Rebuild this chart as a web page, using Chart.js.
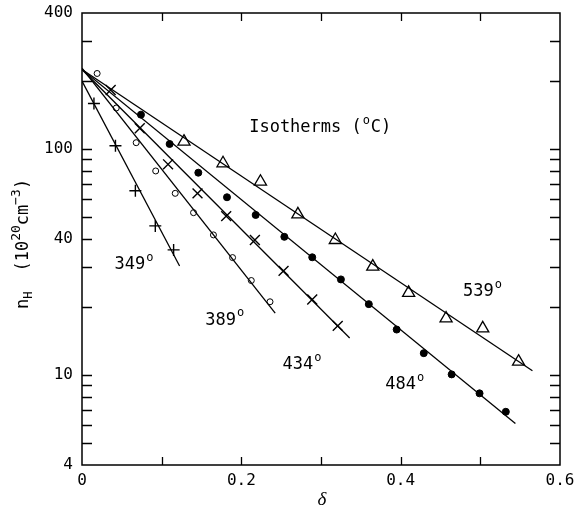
<!DOCTYPE html>
<html><head><meta charset="utf-8">
<script src="https://cdn.jsdelivr.net/npm/chart.js@4.4.1/dist/chart.umd.min.js"></script>
<style>html,body{margin:0;padding:0;background:#fff}canvas{display:block}</style>
</head><body><canvas id="c" width="574" height="511"></canvas>
<script>
// ---- data ----
const x349 = [0.015, 0.042, 0.067, 0.092, 0.115];
const y349 = [159, 103.5, 65.4, 45.7, 35.8];
const x389 = [0.019, 0.043, 0.068, 0.0925, 0.117, 0.140, 0.165, 0.189, 0.2125, 0.236];
const y389 = [216, 152, 106.7, 80, 63.7, 52.3, 41.7, 33.1, 26.2, 21.1];
const x434 = [0.036, 0.0725, 0.108, 0.145, 0.181, 0.217, 0.253, 0.289, 0.321];
const y434 = [182.5, 123.6, 85.6, 63.7, 50.5, 39.6, 28.9, 21.6, 16.5];
const x484 = [0.074, 0.110, 0.146, 0.182, 0.218, 0.254, 0.289, 0.325, 0.360, 0.395, 0.429, 0.464, 0.499, 0.532];
const y484 = [142, 105.3, 78.6, 61.2, 51.1, 40.9, 33.2, 26.5, 20.6, 15.9, 12.5, 10.07, 8.3, 6.88];
const x539 = [0.128, 0.177, 0.224, 0.271, 0.318, 0.365, 0.410, 0.457, 0.503, 0.548];
const y539 = [107.8, 86.5, 71.7, 51.4, 39.6, 30.2, 23.1, 17.8, 16.1, 11.46];
// fitted isotherm lines (end points)
const fitX349 = [0, 0.1225], fitY349 = [200, 30.4];
const fitX389 = [0, 0.2425], fitY389 = [228, 18.8];
const fitX434 = [0, 0.336],  fitY434 = [225, 14.6];
const fitX484 = [0, 0.544],  fitY484 = [225, 6.11];
const fitX539 = [0, 0.5654], fitY539 = [225, 10.45];
// axes
const xTickLabels = [0, 0.2, 0.4, 0.6];
const xTickMarks = [0.1, 0.2, 0.3, 0.4, 0.5];
const yTickLabels = [4, 10, 40, 100, 400];
const yTickMarks = [5, 6, 7, 8, 9, 10, 20, 30, 40, 50, 60, 70, 80, 90, 100, 200, 300];
// annotation labels: [text, x, y]
const isoLabels = [["349", 0.065, 30.7], ["389", 0.179, 17.5], ["434", 0.276, 11.1], ["484", 0.405, 9.04], ["539", 0.5025, 23.3]];
const titleLabel = ["Isotherms (", "C)", 0.299, 124];

const pts = (xs, ys) => xs.map((x, i) => ({x, y: ys[i]}));
const MONO = '"DejaVu Sans Mono", monospace';

const lineDs = (xs, ys) => ({data: pts(xs, ys), showLine: true, pointRadius: 0, borderColor: '#000', borderWidth: 1.3, fill: false});

const datasets = [
  lineDs(fitX349, fitY349), lineDs(fitX389, fitY389), lineDs(fitX434, fitY434), lineDs(fitX484, fitY484), lineDs(fitX539, fitY539),
  {data: pts(x349, y349), pointStyle: 'cross', pointRadius: 6, borderColor: '#000', borderWidth: 1.4, showLine: false},
  {data: pts(x389, y389), pointStyle: 'circle', pointRadius: 3, backgroundColor: '#fff', borderColor: '#000', borderWidth: 1, showLine: false},
  {data: pts(x434, y434), pointStyle: 'crossRot', pointRadius: 7, borderColor: '#000', borderWidth: 1.4, showLine: false},
  {data: pts(x484, y484), pointStyle: 'circle', pointRadius: 3.5, backgroundColor: '#000', borderColor: '#000', borderWidth: 1, showLine: false},
  {data: pts(x539, y539), pointStyle: 'triangle', pointRadius: 7, backgroundColor: '#fff', borderColor: '#000', borderWidth: 1.3, showLine: false}
];

function supText(ctx, base, sup, x, y, size) {
  ctx.font = size + 'px ' + MONO;
  ctx.fillText(base, x, y);
  const w = ctx.measureText(base).width;
  ctx.font = Math.round(size * 0.72) + 'px ' + MONO;
  ctx.fillText(sup, x + w + 1, y - size * 0.42);
  return w + 1 + ctx.measureText(sup).width;
}

const decor = {
  id: 'decor',
  afterDraw(chart) {
    const {ctx, chartArea: a, scales} = chart;
    const xs = scales.x, ys = scales.y;
    ctx.save();
    ctx.strokeStyle = '#000';
    ctx.lineWidth = 1.5;
    ctx.strokeRect(a.left, a.top, a.right - a.left, a.bottom - a.top);
    ctx.lineWidth = 1.3;
    ctx.beginPath();
    yTickMarks.forEach(v => {
      const p = Math.round(ys.getPixelForValue(v)) + 0.5;
      ctx.moveTo(a.left, p); ctx.lineTo(a.left + 10, p);
      ctx.moveTo(a.right, p); ctx.lineTo(a.right - 10, p);
    });
    xTickMarks.forEach(v => {
      const p = Math.round(xs.getPixelForValue(v)) + 0.5;
      ctx.moveTo(p, a.top); ctx.lineTo(p, a.top + 8);
      ctx.moveTo(p, a.bottom); ctx.lineTo(p, a.bottom - 8);
    });
    ctx.stroke();

    ctx.fillStyle = '#000';
    ctx.textBaseline = 'middle';
    ctx.textAlign = 'left';
    isoLabels.forEach(([t, vx, vy]) => {
      const px = xs.getPixelForValue(vx), py = ys.getPixelForValue(vy);
      ctx.font = '17px ' + MONO;
      const w = ctx.measureText(t).width + 8;
      supText(ctx, t, 'o', px - w / 2, py, 17);
    });
    // title
    {
      const [t1, t2, vx, vy] = titleLabel;
      const px = xs.getPixelForValue(vx), py = ys.getPixelForValue(vy);
      ctx.font = '17px ' + MONO;
      const w1 = ctx.measureText(t1).width, w2 = ctx.measureText(t2).width;
      const total = w1 + 9 + w2;
      let x0 = px - total / 2;
      ctx.fillText(t1, x0, py);
      ctx.font = '12px ' + MONO;
      ctx.fillText('o', x0 + w1 + 1, py - 7);
      ctx.font = '17px ' + MONO;
      ctx.fillText(t2, x0 + w1 + 9, py);
    }
    // x title
    ctx.font = 'italic 19px "Liberation Serif", serif';
    ctx.textAlign = 'center';
    ctx.fillText('\u03b4', 322, 500);
    // y title rotated
    ctx.save();
    ctx.translate(28, 309);
    ctx.rotate(-Math.PI / 2);
    ctx.textAlign = 'left';
    ctx.textBaseline = 'alphabetic';
    let cx = 0;
    ctx.font = '17px ' + MONO;
    ctx.fillText('n', cx, 0); cx += ctx.measureText('n').width;
    ctx.font = '12px ' + MONO;
    ctx.fillText('H', cx, 4); cx += ctx.measureText('H').width + 20;
    ctx.font = '17px ' + MONO;
    ctx.fillText('(10', cx, 0); cx += ctx.measureText('(10').width;
    ctx.font = '13px ' + MONO;
    ctx.fillText('20', cx, -8); cx += ctx.measureText('20').width;
    ctx.font = '17px ' + MONO;
    ctx.fillText('cm', cx, 0); cx += ctx.measureText('cm').width;
    ctx.font = '13px ' + MONO;
    ctx.fillText('\u22123', cx, -8); cx += ctx.measureText('\u22123').width;
    ctx.font = '17px ' + MONO;
    ctx.fillText(')', cx, 0);
    ctx.restore();
    ctx.restore();
  }
};

new Chart(document.getElementById('c'), {
  type: 'scatter',
  data: {datasets},
  options: {
    responsive: false,
    animation: false,
    devicePixelRatio: 1,
    layout: {padding: {left: 0, top: 13, right: 14, bottom: 0}},
    plugins: {legend: {display: false}, tooltip: {enabled: false}},
    scales: {
      x: {
        type: 'linear', min: 0, max: 0.6,
        afterBuildTicks: s => { s.ticks = xTickLabels.map(v => ({value: v})); },
        afterFit: s => { s.height = 46; s.paddingLeft = 0; s.paddingRight = 0; },
        grid: {display: false, drawTicks: false}, border: {display: false},
        ticks: {color: '#000', font: {family: MONO, size: 16}, padding: 6, maxRotation: 0, autoSkip: false,
          callback: v => String(v)}
      },
      y: {
        type: 'logarithmic', min: 4, max: 400,
        afterBuildTicks: s => { s.ticks = yTickLabels.map(v => ({value: v})); },
        afterFit: s => { s.width = 82; s.paddingTop = 0; s.paddingBottom = 0; },
        grid: {display: false, drawTicks: false}, border: {display: false},
        ticks: {color: '#000', font: {family: MONO, size: 16}, padding: 9, autoSkip: false,
          callback: v => String(v)}
      }
    }
  },
  plugins: [decor]
});
</script>
</body></html>
